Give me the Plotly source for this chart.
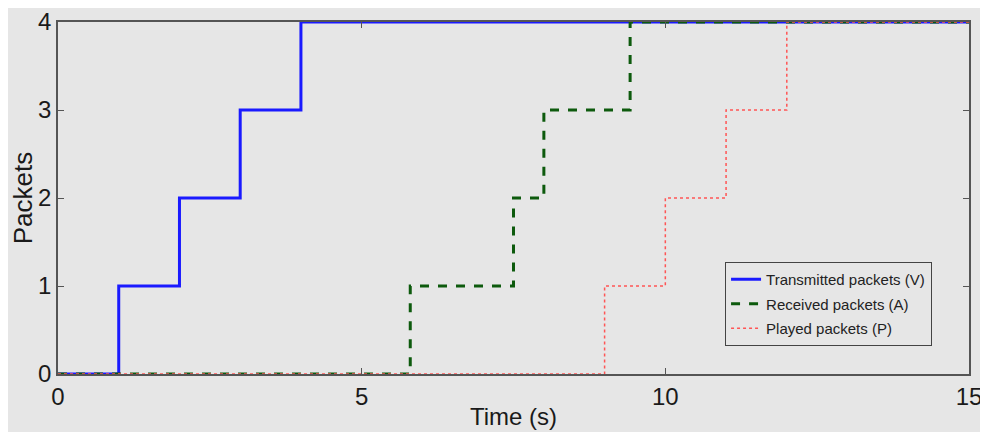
import plotly.graph_objects as go

tx_time = [0, 1, 2, 3, 4, 15]
tx_packets = [0, 1, 2, 3, 4, 4]
rx_time = [0, 5.8, 7.5, 8.0, 9.42, 15]
rx_packets = [0, 1, 2, 3, 4, 4]
pl_time = [0, 9.0, 10.0, 11.0, 12.0, 15]
pl_packets = [0, 1, 2, 3, 4, 4]

x_ticks = [0, 5, 10, 15]
y_ticks = [0, 1, 2, 3, 4]

bg = "#e6e6e6"
font_fam = "Liberation Sans, Arial"
fig = go.Figure()
fig.add_trace(go.Scatter(x=tx_time, y=tx_packets, mode="lines", line_shape="hv", legendgroup="a",
                         name="Transmitted packets (V)", line=dict(color="#1a1aff", width=3)))
fig.add_trace(go.Scatter(x=rx_time, y=rx_packets, mode="lines", line_shape="hv", legendgroup="b",
                         name="Received packets (A)", line=dict(color="#0d5a0d", width=3, dash="dash")))
fig.add_trace(go.Scatter(x=pl_time, y=pl_packets, mode="lines", line_shape="hv", legendgroup="c",
                         name="Played packets (P)", line=dict(color="#ff5555", width=1.5, dash="dot")))

axis_common = dict(showgrid=False, zeroline=False, showline=True, linecolor="#555555", linewidth=1.5,
                   mirror="ticks", ticks="inside", ticklen=6, tickcolor="#555555", automargin=False,
                   ticklabeloverflow="allow",
                   tickfont=dict(family=font_fam, size=24, color="#1a1a1a"))
fig.update_xaxes(range=[0, 15], tickvals=x_ticks, ticktext=[str(v) for v in x_ticks],
                 title=dict(text="Time (s)", font=dict(family=font_fam, size=24, color="#1a1a1a"), standoff=0),
                 **axis_common)
fig.update_yaxes(range=[0, 4], tickvals=y_ticks, ticktext=[str(v) for v in y_ticks],
                 title=dict(text="Packets", font=dict(family=font_fam, size=26, color="#1a1a1a"), standoff=0),
                 **axis_common)
fig.update_layout(
    width=980, height=424,
    margin=dict(l=50, r=19, t=14, b=58),
    paper_bgcolor=bg, plot_bgcolor=bg,
    showlegend=True,
    legend=dict(x=0.732, y=0.08, xanchor="left", yanchor="bottom",
                bgcolor=bg, bordercolor="#444444", borderwidth=1.2,
                font=dict(family=font_fam, size=15, color="#222222"),
                itemwidth=30, tracegroupgap=2),
)
fig.write_html("out.html")
